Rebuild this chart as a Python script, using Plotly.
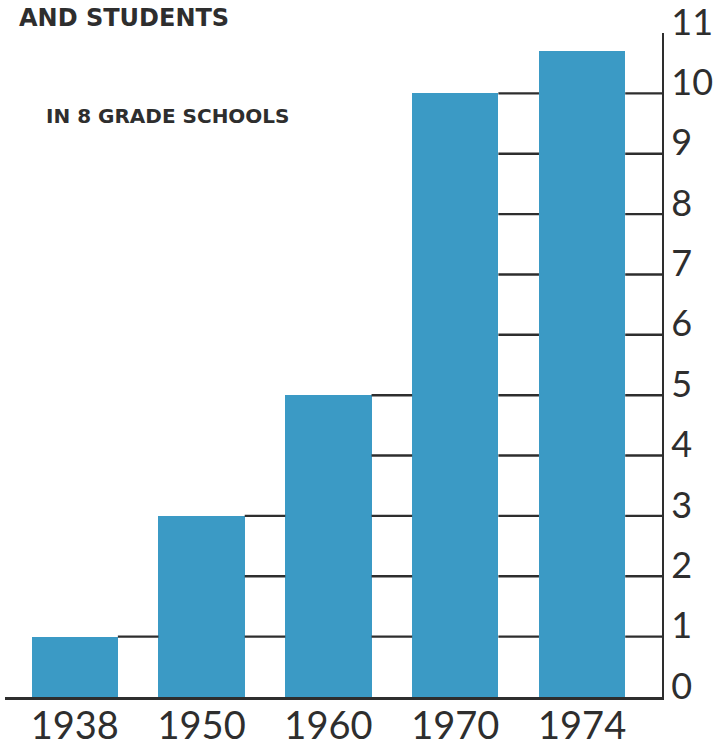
import plotly.graph_objects as go

years = ["1938", "1950", "1960", "1970", "1974"]
values = [1.0, 3.0, 5.0, 10.0, 10.7]
y_ticks = list(range(0, 12))
title_main = "AND STUDENTS"
subtitle = "IN 8 GRADE SCHOOLS"

bar_color = "#3b9ac5"
ink = "#2e2e2e"
half_w = 0.34
x_pos = list(range(len(years)))
x_max = 4.63

fig = go.Figure()
fig.add_trace(go.Bar(x=x_pos, y=values, width=2 * half_w, marker=dict(color=bar_color, line=dict(width=0)),
                     hoverinfo="x+y"))

# ladder segments to the right of each bar, up to that bar's height
seg_x, seg_y = [], []
for i, v in enumerate(values):
    x0 = i + half_w
    x1 = (i + 1 - half_w) if i + 1 < len(values) else x_max
    for k in y_ticks[1:]:
        if k <= v + 1e-9:
            seg_x += [x0, x1, None]
            seg_y += [k, k, None]
fig.add_trace(go.Scatter(x=seg_x, y=seg_y, mode="lines", line=dict(color=ink, width=2.4),
                         hoverinfo="skip"))
fig.data = (fig.data[1], fig.data[0])

fig.update_layout(
    width=715, height=747,
    margin=dict(l=5, r=53, t=33, b=50, autoexpand=False),
    paper_bgcolor="white", plot_bgcolor="white",
    showlegend=False, bargap=0,
    font=dict(family="Lato, DejaVu Sans, sans-serif", color=ink),
    xaxis=dict(range=[-0.55, x_max], tickvals=x_pos, ticktext=years, showgrid=False, zeroline=False,
               showline=True, linecolor=ink, linewidth=2.5, ticks="", tickfont=dict(size=38, color=ink),
               ticklabelstandoff=-6, automargin=False, fixedrange=True),
    yaxis=dict(range=[0, 11], side="right", tickvals=y_ticks, showgrid=False, zeroline=False,
               showline=True, linecolor=ink, linewidth=2.2, ticks="", tickfont=dict(size=36, color=ink),
               ticklabelshift=-11, ticklabelstandoff=0, ticklabeloverflow="allow",
               automargin=False, fixedrange=True),
    annotations=[
        dict(text="<b>" + title_main + "</b>", x=0.0, y=1.0, xref="paper", yref="paper",
             xanchor="left", yanchor="middle", yshift=15, xshift=12, showarrow=False,
             font=dict(size=24, color=ink, family="DejaVu Sans, sans-serif")),
        dict(text="<b>" + subtitle + "</b>", x=0.0, y=1.0, xref="paper", yref="paper",
             xanchor="left", yanchor="middle", yshift=-83, xshift=39, showarrow=False,
             font=dict(size=20, color=ink, family="DejaVu Sans, sans-serif")),
    ],
)

fig.write_html("out.html", config={"displayModeBar": False},
               post_script="document.body.style.margin='0';document.body.style.overflow='hidden';")
